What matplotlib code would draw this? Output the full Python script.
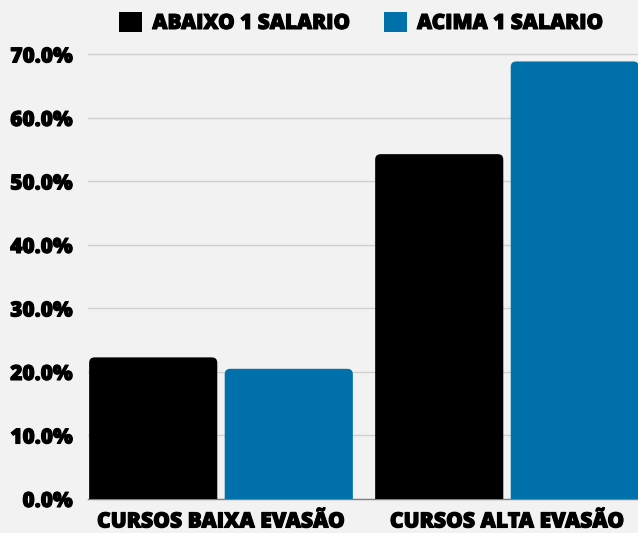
import numpy as np
import matplotlib
matplotlib.use('Agg')
import matplotlib.pyplot as plt
import matplotlib.patheffects as pe
from matplotlib.patches import FancyBboxPatch, Patch

# data
categories = ['CURSOS BAIXA EVASÃO', 'CURSOS ALTA EVASÃO']
abaixo = [22.3, 54.3]   # ABAIXO 1 SALARIO
acima = [20.5, 68.9]    # ACIMA 1 SALARIO
series_names = ['ABAIXO 1 SALARIO', 'ACIMA 1 SALARIO']
colors = ['#000000', '#0071AB']
bg = '#f2f2f2'

plt.rcParams['font.family'] = ['Open Sans', 'DejaVu Sans']
fw = 800
heavy = [pe.withStroke(linewidth=0.8, foreground='black')]

fig = plt.figure(figsize=(6.38, 5.33), dpi=100, facecolor=bg)
ax = fig.add_axes([88/638, 34/533, 550/638, (499-48.1)/533])
ax.set_facecolor(bg)

x = np.arange(len(categories))
w = 0.448
off = 0.237
ymax = 71

ax.set_xlim(-0.465, 1.458)
ax.set_ylim(0, ymax)

# rounded-top bars (bottom corners pushed below the axis and clipped)
px_x = 550 / (1.458 + 0.465)
px_y = (499 - 48.1) / ymax
r = 5.5 / px_x
aspect = (1 / px_y) / (1 / px_x)
for vals, c, dx in [(abaixo, colors[0], -off), (acima, colors[1], off)]:
    for xi, v in zip(x, vals):
        p = FancyBboxPatch((xi + dx - w/2, -3), w, v + 3,
                           boxstyle='round,pad=0,rounding_size=%f' % r,
                           mutation_aspect=aspect, fc=c, ec='none', zorder=3)
        ax.add_patch(p)

ax.set_yticks(np.arange(0, 71, 10))
ax.set_yticklabels(['{:.1f}%'.format(t) for t in np.arange(0, 71, 10)],
                   fontsize=15, fontweight=fw, path_effects=heavy)
ax.set_xticks(x)
ax.set_xticklabels(categories, fontsize=15.2, fontweight=fw, path_effects=heavy)
ax.tick_params(axis='y', length=0, pad=11)
ax.tick_params(axis='x', length=0, pad=9)
ax.grid(axis='y', color='#d0d0d0', lw=1, zorder=0)
ax.set_axisbelow(True)
for s in ['top', 'right', 'left']:
    ax.spines[s].set_visible(False)
ax.spines['bottom'].set_color('#808080')
ax.spines['bottom'].set_linewidth(1)

handles = [Patch(fc=c, ec='none') for c in colors]
leg = fig.legend(handles, series_names, loc='center', bbox_to_anchor=(0.566, 0.957),
                 ncol=2, frameon=False, handlelength=1.1, handleheight=1.1,
                 handletextpad=0.5, columnspacing=1.6,
                 prop={'size': 15, 'weight': fw})
for t in leg.get_texts():
    t.set_path_effects(heavy)

fig.savefig('out.png', dpi=100, facecolor=bg)
